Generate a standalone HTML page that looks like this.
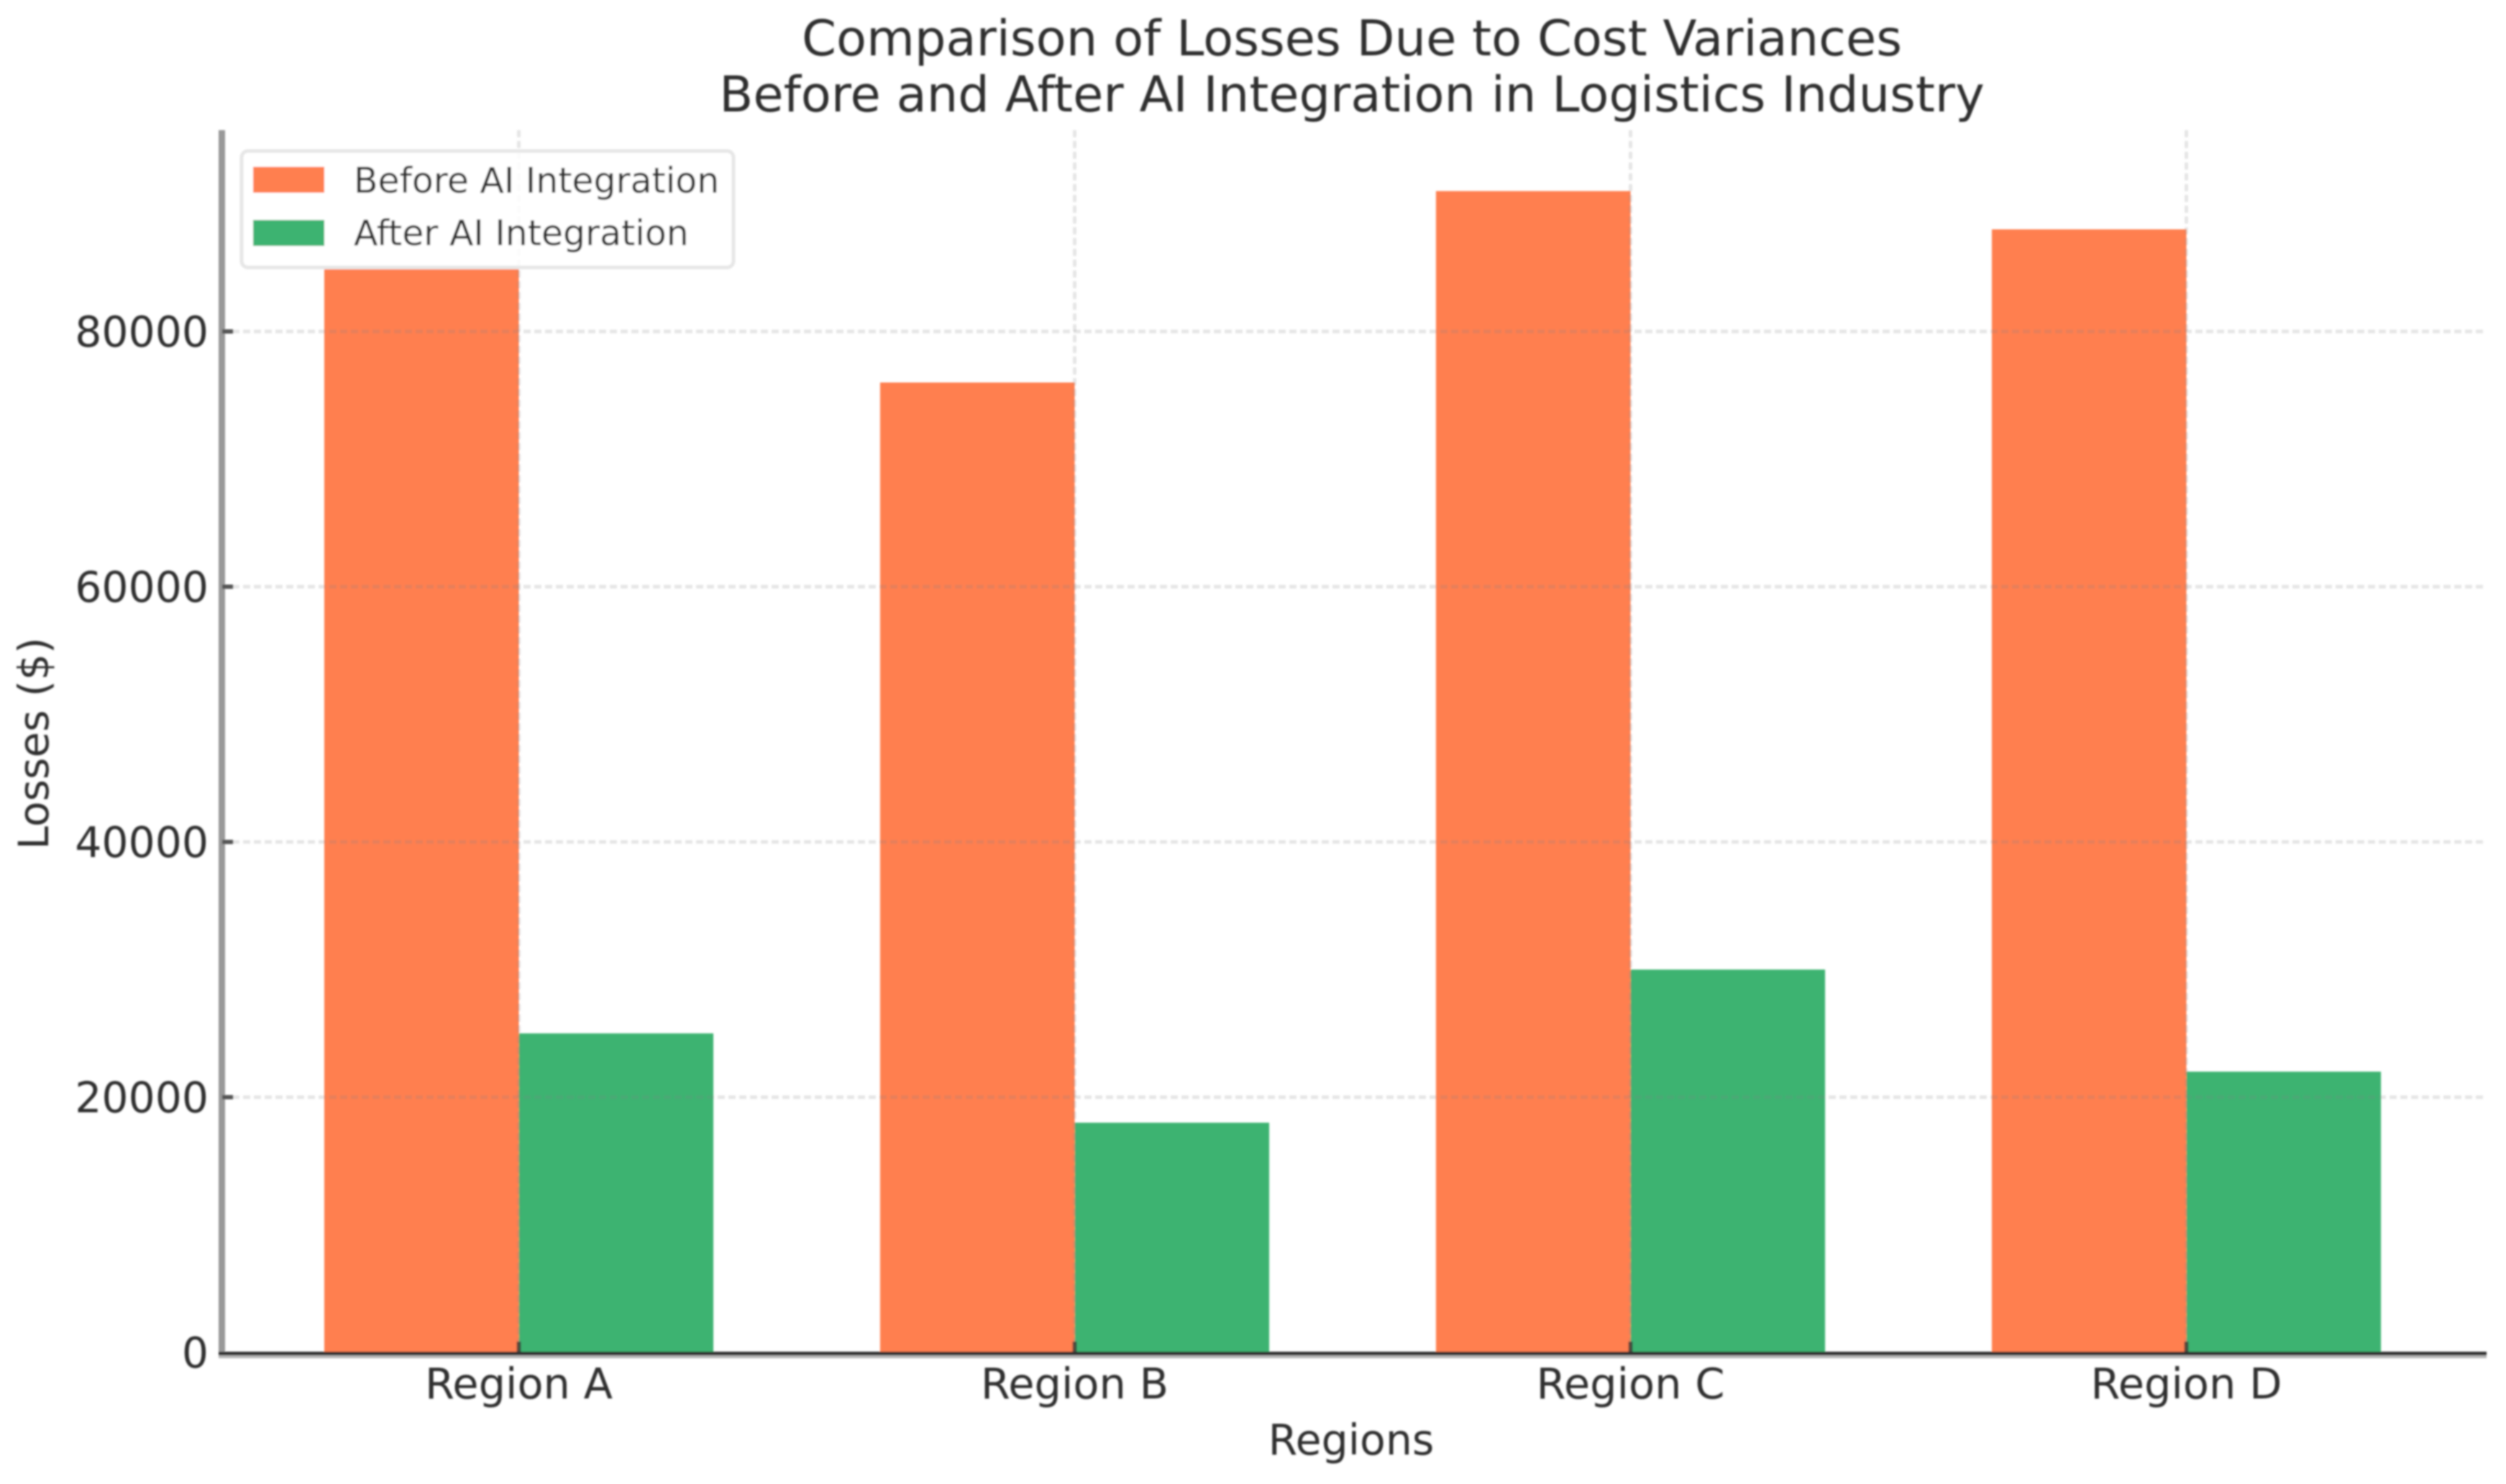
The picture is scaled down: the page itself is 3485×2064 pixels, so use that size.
<!DOCTYPE html>
<html lang="en">
<head>
<meta charset="utf-8">
<title>Comparison of Losses Due to Cost Variances</title>
<style>
  html, body { margin: 0; padding: 0; background: #ffffff; }
  svg { display: block; }
  text { font-family: "DejaVu Sans", "Liberation Sans", sans-serif; fill: #2e2e2e; }
</style>
</head>
<body>
<svg id="chart" xmlns="http://www.w3.org/2000/svg" width="3485" height="2064" viewBox="0 0 3485 2064">
  <defs>
    <filter id="soft" filterUnits="userSpaceOnUse" x="0" y="0" width="3485" height="2064">
      <feGaussianBlur stdDeviation="1.2"/>
    </filter>
  </defs>
  <rect x="0" y="0" width="3485" height="2064" fill="#ffffff"/>
  <g filter="url(#soft)">
    <g id="bars"></g>
    <g id="grid"></g>
    <rect x="304" y="181" width="9" height="1708" fill="#999999"/>
    <rect x="304" y="1885" width="3154" height="4" fill="#b4b4b4"/>
    <rect x="304" y="1880" width="3154" height="5" fill="#333333"/>
    <g id="ticks"></g>
    <g id="labels"></g>
    <g>
      <text x="1880" y="77" font-size="68.7" text-anchor="middle">Comparison of Losses Due to Cost Variances</text>
      <text x="1880" y="155" font-size="68.7" text-anchor="middle">Before and After AI Integration in Logistics Industry</text>
    </g>
    <text x="1879" y="2023" font-size="58.5" text-anchor="middle">Regions</text>
    <text transform="translate(67 1034) rotate(-90)" font-size="58.3" text-anchor="middle">Losses ($)</text>
    <g>
      <rect x="336" y="210" width="684" height="162" rx="9" fill="#ffffff" fill-opacity="0.9" stroke="#e6e6e6" stroke-width="5"/>
      <rect x="352" y="232" width="99" height="36" fill="#FF7F50"/>
      <text x="492" y="268" font-size="48.9">Before AI Integration</text>
      <rect x="352" y="306" width="99" height="36" fill="#3CB371"/>
      <text x="492" y="341" font-size="48.9">After AI Integration</text>
    </g>
  </g>
</svg>
<script>
const categories = ["Region A", "Region B", "Region C", "Region D"];
const beforeValues = [85000, 76000, 91000, 88000];
const afterValues = [25000, 18000, 30000, 22000];
const yTickValues = [0, 20000, 40000, 60000, 80000];
const yTickLabels = ["0", "20000", "40000", "60000", "80000"];

const SVG_NS = "http://www.w3.org/2000/svg";
const PLOT_LEFT = 308;
const PLOT_RIGHT = 3458;
const PLOT_TOP = 181;
const PLOT_BOTTOM = 1881;
const CATEGORY_START = 721.5;
const CATEGORY_STEP = 773;
const BAR_FRACTION = 0.35;
const PX_PER_UNIT = 0.01775;

function xScale(index) {
  return CATEGORY_START + CATEGORY_STEP * index;
}
function yScale(value) {
  return PLOT_BOTTOM - value * PX_PER_UNIT;
}
function make(tag, attrs, parent) {
  const el = document.createElementNS(SVG_NS, tag);
  Object.keys(attrs).forEach(function (k) { el.setAttribute(k, attrs[k]); });
  parent.appendChild(el);
  return el;
}

const barsGroup = document.getElementById("bars");
const gridGroup = document.getElementById("grid");
const ticksGroup = document.getElementById("ticks");
const labelsGroup = document.getElementById("labels");
const barWidth = CATEGORY_STEP * BAR_FRACTION;

categories.forEach(function (cat, i) {
  const key = cat.toLowerCase().replace(/\s+/g, "-");
  const cx = xScale(i);

  const beforeBar = make("rect", {
    x: cx - barWidth, y: yScale(beforeValues[i]), width: barWidth,
    height: PLOT_BOTTOM - yScale(beforeValues[i]), fill: "#FF7F50"
  }, barsGroup);
  
  

  const afterBar = make("rect", {
    x: cx, y: yScale(afterValues[i]), width: barWidth,
    height: PLOT_BOTTOM - yScale(afterValues[i]), fill: "#3CB371"
  }, barsGroup);
  
  

  const vGrid = make("line", {
    x1: cx, x2: cx, y1: PLOT_TOP, y2: PLOT_BOTTOM,
    stroke: "#808080", "stroke-opacity": "0.2", "stroke-width": "5", "stroke-dasharray": "10 5"
  }, gridGroup);
  
  

  const xTick = make("rect", {
    x: cx - 3, y: PLOT_BOTTOM - 15, width: 6, height: 15, fill: "#333333", "fill-opacity": "0.75"
  }, ticksGroup);
  
  

  const xLabel = make("text", {
    x: cx, y: 1945, "font-size": "59", "text-anchor": "middle"
  }, labelsGroup);
  
  
  xLabel.textContent = cat;
});

yTickValues.forEach(function (value, i) {
  const y = yScale(value);
  if (value !== 0) {
    const hGrid = make("line", {
      x1: PLOT_LEFT, x2: PLOT_RIGHT, y1: y, y2: y,
      stroke: "#808080", "stroke-opacity": "0.2", "stroke-width": "5", "stroke-dasharray": "10 5"
    }, gridGroup);
    
    

    const yTick = make("rect", {
      x: 309, y: y - 3, width: 15, height: 6, fill: "#555555"
    }, ticksGroup);
    
    
  }
  const yLabel = make("text", {
    x: 290, y: y + 21, "font-size": "58.4", "text-anchor": "end"
  }, labelsGroup);
  
  
  yLabel.textContent = yTickLabels[i];
});
</script>
</body>
</html>
